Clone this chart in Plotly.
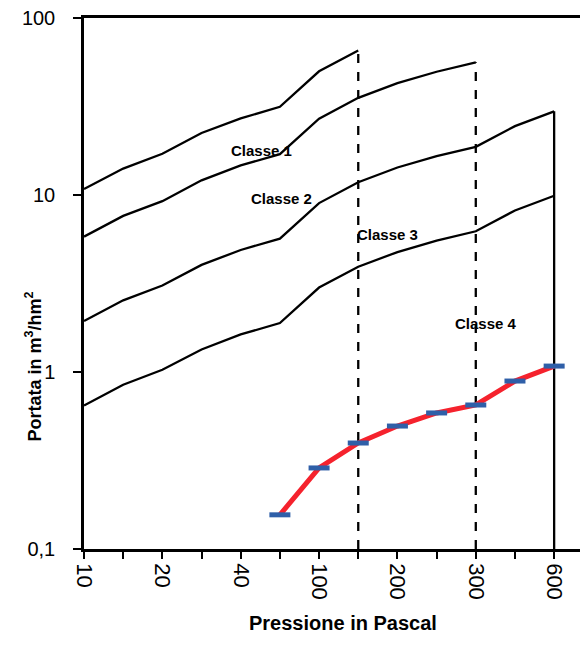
import math
import plotly.graph_objects as go

# Data
pressures = [10, 15, 20, 30, 40, 50, 100, 150, 200, 250, 300, 450, 600]
labelled_pressures = [10, 20, 40, 100, 200, 300, 600]

classe1 = [10.8, 14.1, 17.1, 22.4, 27.1, 31.5, 50.0, 65.5]
classe2 = [5.82, 7.62, 9.23, 12.1, 14.7, 17.0, 27.0, 35.4, 42.9, 49.7, 56.2]
classe3 = [1.94, 2.54, 3.08, 4.03, 4.89, 5.67, 9.0, 11.8, 14.3, 16.6, 18.7, 24.5, 29.7]
classe4 = [0.646, 0.847, 1.03, 1.34, 1.63, 1.89, 3.0, 3.93, 4.76, 5.52, 6.24, 8.18, 9.9]

misura_pressioni = [50, 100, 150, 200, 250, 300, 450, 600]
misura_portata = [0.156, 0.287, 0.397, 0.495, 0.587, 0.651, 0.889, 1.08]

y_tick_vals = [0.1, 1, 10, 100]
y_tick_text = ["0,1", "1", "10", "100"]

FONT = "Liberation Sans, Arial, sans-serif"
idx = {p: i for i, p in enumerate(pressures)}

fig = go.Figure()

line_style = dict(color="black", width=2.3)
for serie in [classe1, classe2, classe3, classe4]:
    fig.add_trace(go.Scatter(
        x=[idx[p] for p in pressures[:len(serie)]], y=serie,
        mode="lines", line=line_style, showlegend=False, hoverinfo="skip"))

# vertical limit lines
fig.add_trace(go.Scatter(x=[idx[150], idx[150]], y=[0.1, classe1[-1]], mode="lines",
                         line=dict(color="black", width=2.3, dash="dash"), showlegend=False))
fig.add_trace(go.Scatter(x=[idx[300], idx[300]], y=[0.1, classe2[-1]], mode="lines",
                         line=dict(color="black", width=2.3, dash="dash"), showlegend=False))
fig.add_trace(go.Scatter(x=[idx[600], idx[600]], y=[0.1, classe3[-1]], mode="lines",
                         line=dict(color="black", width=2.3), showlegend=False))

# measured series
fig.add_trace(go.Scatter(
    x=[idx[p] for p in misura_pressioni], y=misura_portata,
    mode="lines+markers",
    line=dict(color="#f5222d", width=5),
    marker=dict(symbol="line-ew", size=15, line=dict(color="#2f5fa8", width=5)),
    showlegend=False))

labels = [("Classe 1", 4.54, 17.9), ("Classe 2", 5.03, 9.6),
          ("Classe 3", 7.74, 6.0), ("Classe 4", 10.26, 1.89)]
for t, xx, yy in labels:
    fig.add_annotation(x=xx, y=math.log10(yy), text="<b>%s</b>" % t,
                       showarrow=False, font=dict(size=15, color="black", family=FONT))

fig.add_annotation(xref="paper", yref="paper", x=(343 - 84) / 496, y=-(636 - 549) / 531,
                   text="<b>Pressione in Pascal</b>", showarrow=False,
                   font=dict(size=20, color="black", family=FONT))
fig.add_annotation(xref="paper", yref="paper", x=-(84 - 20) / 496, y=(549 - 367) / 531,
                   text="<b>Portata in m<sup>3</sup>/hm<sup>2</sup></b>", textangle=-90,
                   showarrow=False, font=dict(size=18, color="black", family=FONT))

fig.update_xaxes(
    range=[0, 12.66], tickmode="array",
    tickvals=[idx[p] for p in labelled_pressures],
    ticktext=[str(p) for p in labelled_pressures],
    tickangle=90, ticks="outside", ticklen=7, tickwidth=2,
    tickcolor="black", showline=True, linecolor="black", linewidth=2.5, mirror=True,
    showgrid=False, zeroline=False,
    minor=dict(tickmode="linear", tick0=0, dtick=1, ticks="outside", ticklen=7,
               tickwidth=2, tickcolor="black", showgrid=False),
    tickfont=dict(size=22, color="black", family=FONT))
fig.update_yaxes(
    type="log", range=[-1, 2], tickmode="array", tickvals=y_tick_vals, ticktext=y_tick_text,
    ticks="outside", ticklen=8, tickwidth=2, tickcolor="black", showline=True,
    linecolor="black", linewidth=2.5, showgrid=False, zeroline=False, ticklabelstandoff=14,
    tickfont=dict(size=20, color="black", family=FONT))

fig.update_layout(
    width=580, height=645, margin=dict(l=84, r=0, t=18, b=96),
    plot_bgcolor="white", paper_bgcolor="white")

fig.write_html("out.html")
